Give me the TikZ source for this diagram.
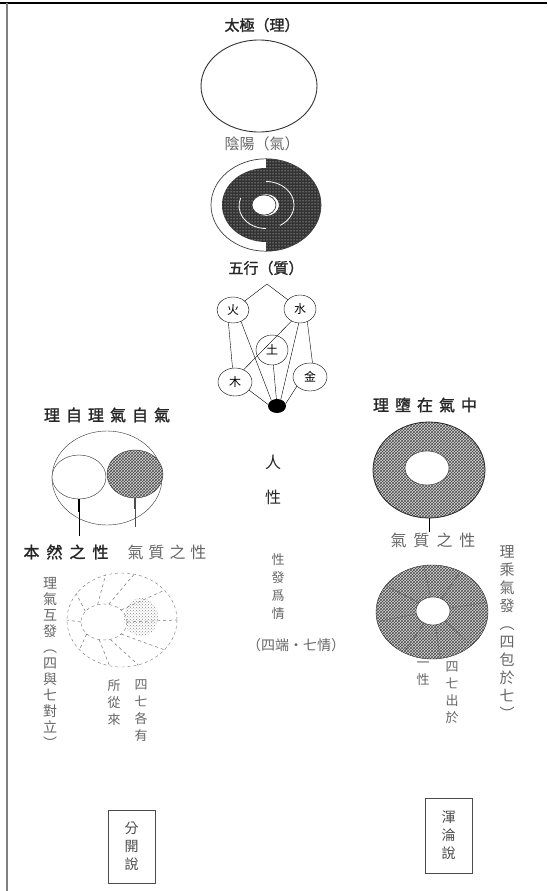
\documentclass[tikz,border=0pt]{standalone}
\usepackage{fontspec}
\setmainfont{Noto Sans CJK TC}
\newfontfamily\cjkb[FakeBold=1.5]{Noto Sans CJK TC}
\usetikzlibrary{shapes.geometric,patterns}
\begin{document}
\begin{tikzpicture}[x=1pt,y=-1pt,
  lbl/.style={inner sep=0pt, font=\fontsize{15}{15}\selectfont, text=black!60},
  head/.style={inner sep=0pt, font=\fontsize{15}{15}\selectfont\cjkb, text=black!85},
  vcol/.style={inner sep=0pt, anchor=north, align=center, text=black!60},
  ring/.style={ellipse, draw, inner sep=0pt},
  elem/.style={ellipse, draw, inner sep=0pt, font=\fontsize{12}{12}\selectfont},
  stip/.style={preaction={fill=black!15}, pattern=crosshatch, pattern color=black!70},
  spoke/.style={draw, black!55, dashed, line width=0.5pt},
  boxv/.style={draw, black!70, inner sep=0pt, align=center, minimum width=47pt, font=\fontsize{14}{18}\selectfont, text=black!70}
]
\useasboundingbox (0,0) rectangle (547,891);
\fill[white] (0,0) rectangle (547,891);
\draw[line width=1.5pt] (0,3) -- (547,3);
\draw[line width=1.5pt, black!50] (7,3) -- (7,891);

% ---- Taiji ----
\node[head] (t1) at (262,25) {太極（理）};
\node[ring, line width=0.9pt, black!80, minimum width=116pt, minimum height=92pt] (taiji) at (259,86) {};

% ---- Yin-yang ----
\node[lbl] (t2) at (262,144) {陰陽（氣）};
\begin{scope}[shift={(266,205)}, yscale=0.84]
  \fill[black!80] (0,-55) arc[start angle=-90,end angle=90,radius=55] -- (0,13) arc[start angle=90,end angle=-90,radius=13] -- cycle;
  \fill[black!80] (0,-44) arc[start angle=-90,end angle=-270,radius=44] -- (0,13) arc[start angle=90,end angle=270,radius=13] -- cycle;
  \fill[pattern=dots, pattern color=white] (0,-55) arc[start angle=-90,end angle=90,radius=55] -- (0,13) arc[start angle=90,end angle=-90,radius=13] -- cycle;
  \fill[pattern=dots, pattern color=white] (0,-44) arc[start angle=-90,end angle=-270,radius=44] -- (0,13) arc[start angle=90,end angle=270,radius=13] -- cycle;
  \draw[white, line width=0.8pt] (0,-28) arc[start angle=-90,end angle=60,radius=28];
  \draw[white, line width=0.8pt] (0,28) arc[start angle=90,end angle=200,radius=27];
  \draw[black!75, line width=0.7pt] (0,0) circle[radius=55];
  \draw[black!80, fill=white, line width=0.7pt] (-2,0) circle[radius=12];
\end{scope}

% ---- Five elements ----
\node[head] (t3) at (266,268) {五行（質）};
\node[elem, minimum width=32pt, minimum height=26pt] (huo) at (233,310) {火};
\node[elem, minimum width=32pt, minimum height=28pt] (shui) at (300,309) {水};
\node[elem, minimum width=32pt, minimum height=30pt] (tu) at (272,350) {土};
\node[elem, minimum width=34pt, minimum height=28pt] (mu) at (235,382) {木};
\node[elem, minimum width=34pt, minimum height=28pt] (jin) at (310,377) {金};
\node[ellipse, fill=black, inner sep=0pt, minimum width=18pt, minimum height=14pt] (dot) at (277,406) {};
\coordinate (apex) at (267,284);
\draw (huo) -- (apex) -- (shui);
\draw (huo.250) -- (mu.100);
\draw (shui.300) -- (jin.80);
\draw (shui.235) -- (mu.55);
\draw (huo.305) -- (dot.135);
\draw (shui.265) -- (dot.60);
\draw (mu.330) -- (dot.170);
\draw (jin.215) -- (dot.15);
\draw (tu) -- (dot);

% ---- Left upper ----
\node[head, font=\fontsize{16}{16}\selectfont\cjkb] (lh) at (107,415) {理\kern6pt自\kern6pt理\kern6pt氣\kern6pt自\kern6pt氣};
\node[ring, black!80, minimum width=110pt, minimum height=94pt] (lu) at (107,478) {};
\node[ring, black!85, fill=white, minimum width=54pt, minimum height=44pt] (lw) at (79,477) {};
\node[ring, stip, draw=black!80, minimum width=56pt, minimum height=48pt] (ld) at (135,474) {};
\coordinate (p1) at (79,536);
\coordinate (p2) at (135,527);
\draw[line width=0.6pt] (lw.south) -- (p1);
\draw[line width=2pt] (lw.south) -- ++(0,13);
\draw[line width=0.6pt, black!70] (ld.south) -- (p2);
\draw[line width=2pt, black!70] (ld.south) -- ++(0,11);
\node[head, font=\fontsize{16}{16}\selectfont\cjkb] (bx) at (66,552) {本\kern7pt然\kern7pt之\kern7pt性};
\node[lbl, font=\fontsize{16}{16}\selectfont] (qz1) at (167,552) {氣\kern5pt質\kern5pt之\kern5pt性};

% ---- Left lower ----
\node[vcol, font=\fontsize{14}{16}\selectfont] (lv) at (50,577) {理\\氣\\互\\發\\︵\\四\\與\\七\\對\\立\\︶};
\node[ring, dashed, black!55, minimum width=110pt, minimum height=94pt] (hl) at (122,620) {};
\fill[pattern=crosshatch dots, pattern color=black!45] (141,617) ellipse[x radius=17, y radius=19];
\node[ring, dashed, black!55, minimum width=46pt, minimum height=36pt] (hli) at (104,622) {};
\foreach \a in {0,35,75,110,150,180,215,255,290,325} \draw[spoke] (hli.\a) -- (hl.\a);
\node[vcol, font=\fontsize{13}{17}\selectfont] (c1) at (141,680) {四\\七\\各\\有};
\node[vcol, font=\fontsize{13}{17}\selectfont] (c2) at (114,680) {所\\從\\來};

% ---- Center column ----
\node[head, font=\fontsize{16}{16}\selectfont, text=black!85] (ren) at (273,462) {人};
\node[head, font=\fontsize{16}{16}\selectfont, text=black!85] (xing) at (273,497) {性};
\node[vcol, font=\fontsize{13}{18}\selectfont] (cv) at (278,553) {性\\發\\爲\\情};
\node[lbl, font=\fontsize{14}{14}\selectfont] (sq) at (296,645) {（四端・七情）};

% ---- Right upper ----
\node[head, font=\fontsize{16}{16}\selectfont\cjkb] (rh) at (425,405) {理\kern6pt墮\kern6pt在\kern6pt氣\kern6pt中};
\node[ring, stip, draw=black!85, line width=0.8pt, minimum width=112pt, minimum height=96pt] (ru) at (429,470) {};
\node[ring, black!85, fill=white, minimum width=44pt, minimum height=34pt] (rui) at (427,468) {};
\coordinate (p3) at (429,532);
\draw[line width=0.7pt] (ru.south) -- (p3);
\node[lbl, font=\fontsize{16}{16}\selectfont] (qz2) at (433,540) {氣\kern7pt質\kern7pt之\kern7pt性};

% ---- Right lower ----
\node[vcol, font=\fontsize{15}{18}\selectfont] (rv) at (507,545) {理\\乘\\氣\\發\\︵\\四\\包\\於\\七\\︶};
\node[ring, stip, draw=black!85, minimum width=112pt, minimum height=94pt] (hr) at (432,612) {};
\node[ring, black!85, fill=white, minimum width=34pt, minimum height=28pt] (hri) at (433,611) {};
\foreach \a in {10,55,100,150,190,235,280,320} \draw[black!60, line width=0.5pt] (hri.\a) -- (hr.\a);
\node[vcol, font=\fontsize{13}{17}\selectfont] (c3) at (452,662) {四\\七\\出\\於};
\node[vcol, font=\fontsize{13}{17}\selectfont] (c4) at (423,662) {一\\性};

% ---- Boxes ----
\node[boxv, minimum height=73pt] (bl) at (131.5,846.5) {分\\開\\說};
\node[boxv, minimum height=75pt] (br) at (448.5,835.5) {渾\\淪\\說};
\end{tikzpicture}
\end{document}
